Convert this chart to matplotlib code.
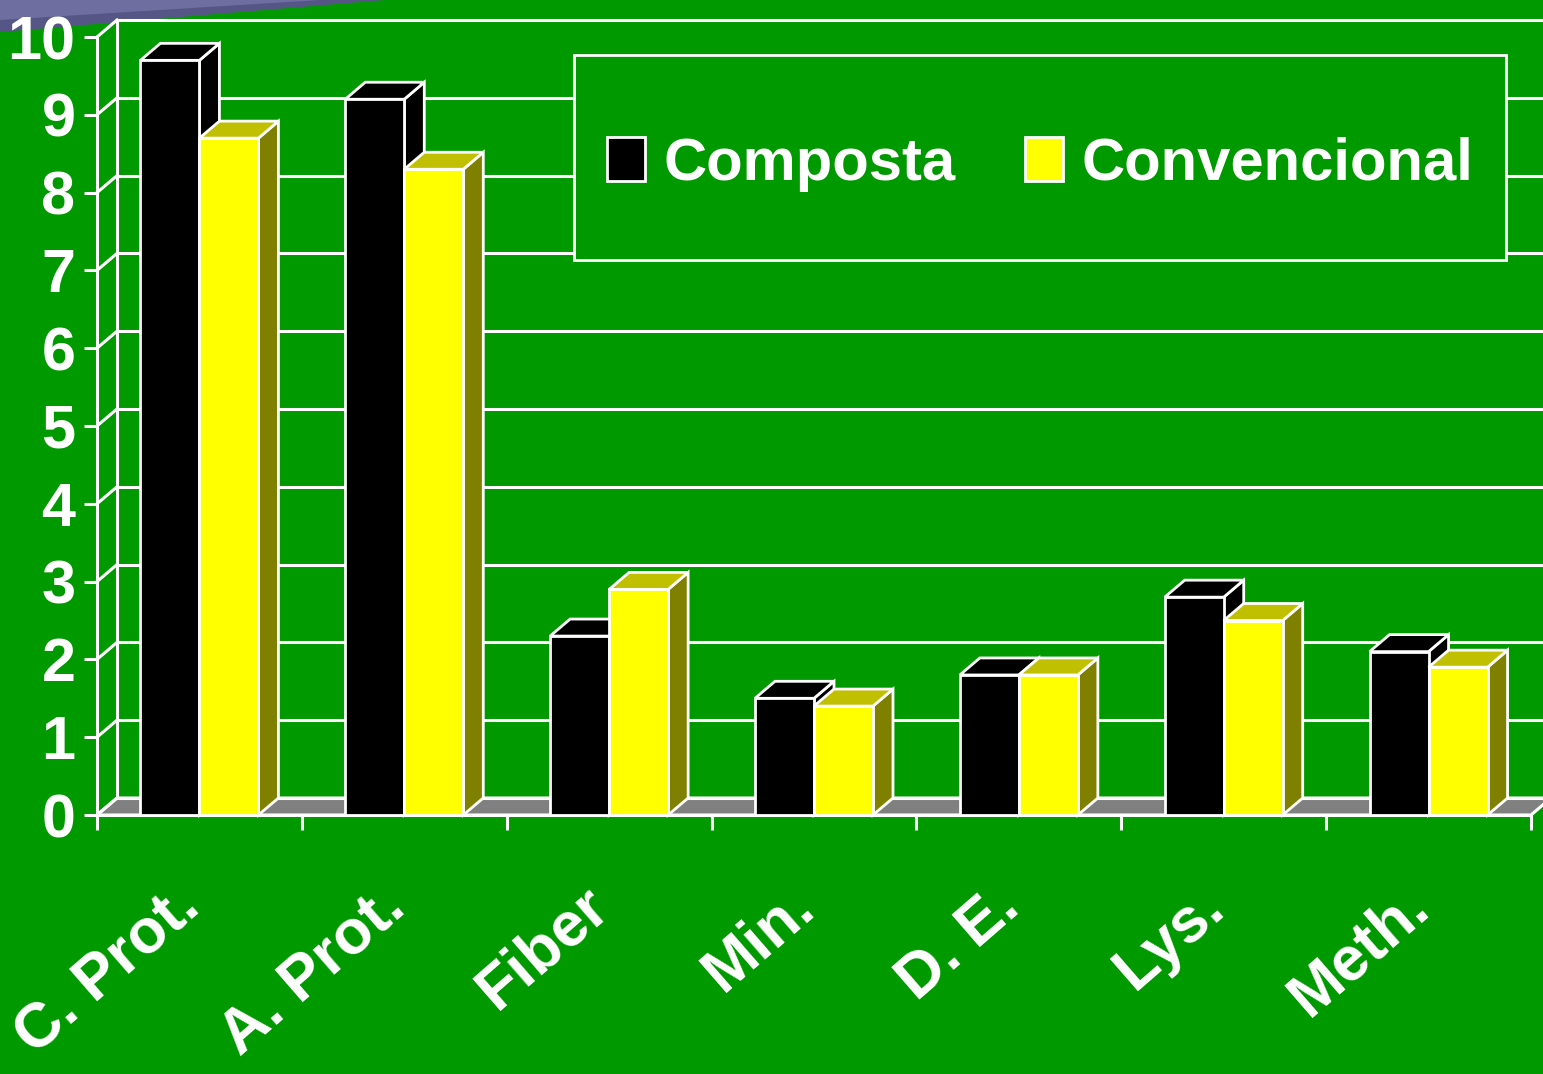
import matplotlib
matplotlib.use("Agg")
import matplotlib.pyplot as plt
from matplotlib.patches import Polygon, Rectangle, Patch
from matplotlib.transforms import ScaledTranslation

# === DATA ===
categories = ["C. Prot.", "A. Prot.", "Fiber", "Min.", "D. E.", "Lys.", "Meth."]
composta = [9.7, 9.2, 2.3, 1.5, 1.8, 2.8, 2.1]
convencional = [8.7, 8.3, 2.9, 1.4, 1.8, 2.5, 1.9]
series_names = ["Composta", "Convencional"]
y_ticks = list(range(0, 11))

# === STYLE ===
W, H = 1543, 1074
GREEN = "#009900"
FLOOR = "#808080"
face_colors = [("#000000", "#000000", "#000000"),   # front, top, side
               ("#FFFF00", "#C0C000", "#808000")]
plt.rcParams["font.family"] = ["Liberation Sans", "DejaVu Sans"]
plt.rcParams["font.weight"] = "bold"

bar_w = 0.288            # width of one bar, in category units
dx, dy = 0.0976, 0.2185  # depth offset of the 3d look, in data units
lw = 2.2


def px(x, y):
    # pixel (from top-left) -> figure fraction
    return (x / W, 1 - y / H)


fig = plt.figure(figsize=(W / 100, H / 100), dpi=100, facecolor=GREEN)

# slide decoration in the top-left corner
fig.add_artist(Polygon([px(0, 0), px(385, 0), px(0, 32)], closed=True,
                       transform=fig.transFigure, facecolor="#565686",
                       edgecolor="none", zorder=-2))
fig.add_artist(Polygon([px(0, 0), px(320, 0), px(0, 20)], closed=True,
                       transform=fig.transFigure, facecolor="#6E6EA0",
                       edgecolor="none", zorder=-1))

left, right = px(97, 0)[0], px(1531, 0)[0]
bottom, top = px(0, 815)[1], px(0, 37)[1]
ax = fig.add_axes([left, bottom, right - left, top - bottom])
ax.set_facecolor("none")
ax.set_xlim(-0.5, len(categories) - 0.5)
ax.set_ylim(0, 10)

x_lo, x_hi = -0.5, len(categories) - 0.5

# floor
ax.add_patch(Polygon([(x_lo, 0), (x_hi, 0), (x_hi + dx, dy), (x_lo + dx, dy)],
                     closed=True, facecolor=FLOOR, edgecolor="white",
                     linewidth=lw, zorder=1, clip_on=False))

# back wall gridlines and left wall
for v in y_ticks:
    ax.plot([x_lo + dx, x_hi + 0.2], [v + dy, v + dy], color="white",
            lw=lw, zorder=1, clip_on=False, solid_capstyle="butt")
    ax.plot([x_lo, x_lo + dx], [v, v + dy], color="white", lw=lw,
            zorder=1, clip_on=False)
ax.plot([x_lo + dx, x_lo + dx], [dy, 10 + dy], color="white", lw=lw,
        zorder=1, clip_on=False)

# 3d bars
for i in range(len(categories)):
    for s, vals in enumerate([composta, convencional]):
        h = vals[i]
        x0 = i - bar_w + s * bar_w
        x1 = x0 + bar_w
        front, topc, side = face_colors[s]
        z = 3 + i * 0.1 + s * 0.05
        ax.add_patch(Polygon([(x1, 0), (x1 + dx, dy), (x1 + dx, h + dy), (x1, h)],
                             closed=True, facecolor=side, edgecolor="white",
                             linewidth=2.0, zorder=z, clip_on=False,
                             joinstyle="miter"))
        ax.add_patch(Polygon([(x0, h), (x1, h), (x1 + dx, h + dy), (x0 + dx, h + dy)],
                             closed=True, facecolor=topc, edgecolor="white",
                             linewidth=2.0, zorder=z, clip_on=False,
                             joinstyle="miter"))
        ax.add_patch(Rectangle((x0, 0), bar_w, h, facecolor=front,
                               edgecolor="white", linewidth=2.0, zorder=z + 0.01,
                               clip_on=False, joinstyle="miter"))

# axes, ticks and labels
for sp in ["top", "right"]:
    ax.spines[sp].set_visible(False)
for sp in ["left", "bottom"]:
    ax.spines[sp].set_color("white")
    ax.spines[sp].set_linewidth(lw)
    ax.spines[sp].set_zorder(2)

ax.set_yticks(y_ticks)
ax.set_yticklabels([str(v) for v in y_ticks])
ax.tick_params(axis="y", colors="white", length=9.5, width=lw, pad=6,
               labelsize=44, direction="out")
for t in ax.get_yticklabels():
    t.set_fontweight("bold")
    t.set_clip_on(False)

ax.set_xticks([k - 0.5 for k in range(len(categories) + 1)])
ax.set_xticklabels([])
ax.tick_params(axis="x", which="major", colors="white", length=11,
               width=lw, direction="out")
ax.set_xticks(range(len(categories)), categories, minor=True)
ax.tick_params(axis="x", which="minor", length=0, pad=60, labelsize=45,
               labelcolor="white")
shift = ScaledTranslation(-8 / 100, 0, fig.dpi_scale_trans)
for t in ax.get_xticklabels(minor=True):
    t.set_rotation(41)
    t.set_ha("right")
    t.set_va("center")
    t.set_rotation_mode("anchor")
    t.set_fontweight("bold")
    t.set_transform(t.get_transform() + shift)

# legend box
fig.add_artist(Rectangle(px(574, 260), (1506 - 574) / W, (260 - 55) / H,
                         transform=fig.transFigure, facecolor=GREEN,
                         edgecolor="white", linewidth=2.0, zorder=10))
handles = [Patch(facecolor=face_colors[s][0], edgecolor="white", linewidth=2.0)
           for s in range(2)]
leg = fig.legend(handles, series_names, loc="center",
                 bbox_to_anchor=px((574 + 1506) / 2, 164),
                 ncol=2, frameon=False, fontsize=43,
                 handlelength=0.64, handleheight=0.75, handletextpad=0.3,
                 columnspacing=1.17, borderpad=0)
leg.set_zorder(11)
for t in leg.get_texts():
    t.set_color("white")
    t.set_fontweight("bold")

fig.savefig("out.png", dpi=100, facecolor=GREEN)
